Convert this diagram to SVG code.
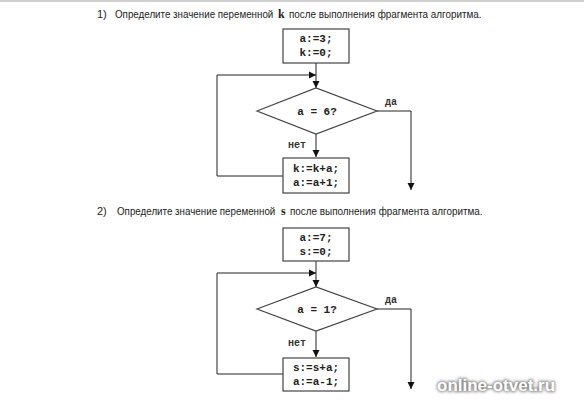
<svg xmlns="http://www.w3.org/2000/svg" width="584" height="400" viewBox="0 0 584 400">
<style>
.bg{fill:#fff}
.box{fill:#fff;stroke:#444;stroke-width:1.2}
.ln{fill:none;stroke:#222;stroke-width:1}
.code{font-family:"Liberation Mono","Courier New",monospace;font-size:11px;font-weight:bold;fill:#222;text-anchor:middle}
.lbl{font-family:"Liberation Mono","Courier New",monospace;font-size:10px;font-weight:bold;fill:#333}
.hd{font-family:"Liberation Sans",Arial,sans-serif;font-size:11px;fill:#222}
.var{font-family:"Liberation Serif","Times New Roman",serif;font-size:12px;font-weight:bold;fill:#222}
.wm{font-family:"Liberation Sans",Arial,sans-serif;font-size:17px;font-weight:bold}
</style>
<defs>
<marker id="ah" viewBox="0 0 10 10" refX="10" refY="5" markerWidth="7" markerHeight="9" markerUnits="userSpaceOnUse" orient="auto">
<path d="M0,0 L10,5 L0,10 z" fill="#111"/>
</marker>
<filter id="sh" x="-10%" y="-40%" width="120%" height="180%">
<feGaussianBlur stdDeviation="1.6"/>
</filter>
</defs>
<rect class="bg" x="0" y="0" width="584" height="400"/>
<rect x="0" y="0" width="584" height="2" fill="#d0d0d0"/>

<g id="heading1">
<text class="hd" x="97" y="18">1)</text>
<text class="hd" transform="translate(115,18) scale(0.89,1)">Определите значение переменной</text>
<text class="var" x="278" y="18">k</text>
<text class="hd" transform="translate(289,18) scale(0.9,1)">после выполнения фрагмента алгоритма.</text>
</g>

<g id="connectors1">
<path class="ln" d="M316,63 V88" marker-end="url(#ah)"/>
<path class="ln" d="M283,176 H217 V75 H316" marker-end="url(#ah)"/>
<path class="ln" d="M316,134 V157" marker-end="url(#ah)"/>
<path class="ln" d="M377,111 H411 V190" marker-end="url(#ah)"/>
<text class="lbl" x="385" y="105">да</text>
<text class="lbl" x="288" y="148">нет</text>
</g>
<g id="init1">
<rect class="box" x="283" y="29" width="66" height="34"/>
<text class="code" x="316" y="42">a:=3;</text>
<text class="code" x="316" y="56">k:=0;</text>
</g>
<g id="cond1">
<polygon class="box" points="257,111 316,88 377,111 316,134"/>
<text class="code" x="317" y="115">a = 6?</text>
</g>
<g id="body1">
<rect class="box" x="283" y="158" width="66" height="35"/>
<text class="code" x="316" y="172">k:=k+a;</text>
<text class="code" x="316" y="186">a:=a+1;</text>
</g>

<g id="heading2">
<text class="hd" x="97" y="215">2)</text>
<text class="hd" transform="translate(117,215) scale(0.89,1)">Определите значение переменной</text>
<text class="var" x="281" y="215">s</text>
<text class="hd" transform="translate(290,215) scale(0.9,1)">после выполнения фрагмента алгоритма.</text>
</g>

<g id="connectors2">
<path class="ln" d="M316,261 V287" marker-end="url(#ah)"/>
<path class="ln" d="M283,374 H217 V273 H316" marker-end="url(#ah)"/>
<path class="ln" d="M316,331 V357" marker-end="url(#ah)"/>
<path class="ln" d="M377,309 H411 V389" marker-end="url(#ah)"/>
<text class="lbl" x="385" y="303">да</text>
<text class="lbl" x="288" y="346">нет</text>
</g>
<g id="init2">
<rect class="box" x="283" y="228" width="66" height="33"/>
<text class="code" x="316" y="241">a:=7;</text>
<text class="code" x="316" y="255">s:=0;</text>
</g>
<g id="cond2">
<polygon class="box" points="257,309 316,287 377,309 316,331"/>
<text class="code" x="317" y="313">a = 1?</text>
</g>
<g id="body2">
<rect class="box" x="283" y="358" width="66" height="33"/>
<text class="code" x="316" y="371">s:=s+a;</text>
<text class="code" x="316" y="385">a:=a-1;</text>
</g>

<g id="watermark">
<text class="wm" x="437" y="391" fill="#888" stroke="#888" stroke-width="2" filter="url(#sh)">online-otvet.ru</text>
<text class="wm" x="437" y="391" fill="#fff">online-otvet.ru</text>
</g>
</svg>
